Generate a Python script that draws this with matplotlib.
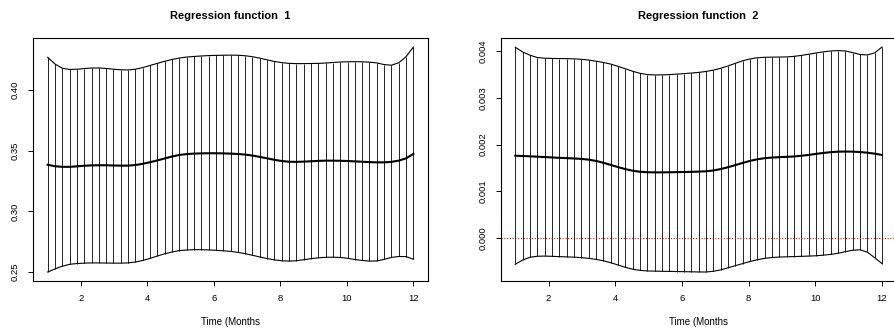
import numpy as np
import matplotlib
matplotlib.use("Agg")
import matplotlib.pyplot as plt

plt.rcParams['font.family'] = ['Liberation Sans', 'DejaVu Sans']

# Evaluation grid (months)
months = np.linspace(1, 12, 51)

# Regression function 1: estimate with pointwise band
fit1 = [0.3384, 0.3372, 0.3367, 0.3367, 0.3371, 0.3376, 0.3379, 0.3380, 0.3380, 0.3378,
        0.3377, 0.3377, 0.3382, 0.3392, 0.3405, 0.3420, 0.3436, 0.3452, 0.3465, 0.3472,
        0.3476, 0.3478, 0.3479, 0.3479, 0.3478, 0.3476, 0.3473, 0.3468, 0.3460, 0.3449,
        0.3437, 0.3425, 0.3415, 0.3409, 0.3408, 0.3410, 0.3413, 0.3416, 0.3418, 0.3418,
        0.3417, 0.3415, 0.3412, 0.3409, 0.3406, 0.3404, 0.3404, 0.3408, 0.3418, 0.3437,
        0.3474]
upper1 = [0.4270, 0.4215, 0.4180, 0.4170, 0.4172, 0.4177, 0.4182, 0.4182, 0.4178, 0.4172,
          0.4167, 0.4166, 0.4172, 0.4185, 0.4203, 0.4220, 0.4237, 0.4252, 0.4264, 0.4272,
          0.4277, 0.4281, 0.4284, 0.4286, 0.4287, 0.4288, 0.4287, 0.4283, 0.4275, 0.4263,
          0.4249, 0.4236, 0.4226, 0.4220, 0.4218, 0.4218, 0.4219, 0.4220, 0.4223, 0.4227,
          0.4231, 0.4233, 0.4234, 0.4233, 0.4230, 0.4224, 0.4210, 0.4205, 0.4225, 0.4275,
          0.4355]
lower1 = [0.2500, 0.2525, 0.2548, 0.2563, 0.2570, 0.2573, 0.2575, 0.2575, 0.2574, 0.2573,
          0.2573, 0.2575, 0.2582, 0.2595, 0.2612, 0.2632, 0.2650, 0.2665, 0.2676, 0.2681,
          0.2684, 0.2684, 0.2682, 0.2679, 0.2675, 0.2670, 0.2662, 0.2651, 0.2638, 0.2624,
          0.2611, 0.2600, 0.2593, 0.2590, 0.2593, 0.2601, 0.2610, 0.2617, 0.2621, 0.2622,
          0.2620, 0.2613, 0.2603, 0.2595, 0.2590, 0.2591, 0.2604, 0.2620, 0.2628, 0.2627,
          0.2605]

# Regression function 2: estimate with pointwise band
fit2 = [0.001760, 0.001755, 0.001748, 0.001740, 0.001732, 0.001724, 0.001716, 0.001709,
        0.001702, 0.001693, 0.001677, 0.001650, 0.001610, 0.001565, 0.001518, 0.001475,
        0.001440, 0.001418, 0.001408, 0.001405, 0.001405, 0.001407, 0.001410, 0.001413,
        0.001416, 0.001421, 0.001428, 0.001445, 0.001475, 0.001515, 0.001560, 0.001607,
        0.001650, 0.001685, 0.001708, 0.001722, 0.001730, 0.001737, 0.001745, 0.001760,
        0.001778, 0.001800, 0.001820, 0.001837, 0.001848, 0.001850, 0.001848, 0.001840,
        0.001825, 0.001805, 0.001777]
upper2 = [0.004080, 0.003980, 0.003910, 0.003860, 0.003845, 0.003840, 0.003838, 0.003836,
          0.003832, 0.003822, 0.003806, 0.003782, 0.003755, 0.003720, 0.003672, 0.003620,
          0.003566, 0.003522, 0.003496, 0.003488, 0.003489, 0.003495, 0.003505, 0.003516,
          0.003528, 0.003542, 0.003562, 0.003590, 0.003630, 0.003680, 0.003736, 0.003790,
          0.003830, 0.003855, 0.003865, 0.003868, 0.003870, 0.003873, 0.003885, 0.003905,
          0.003930, 0.003957, 0.003982, 0.004000, 0.004008, 0.004000, 0.003965, 0.003925,
          0.003915, 0.003960, 0.004085]
lower2 = [-0.000560, -0.000470, -0.000410, -0.000388, -0.000385, -0.000390, -0.000396,
          -0.000402, -0.000408, -0.000418, -0.000433, -0.000455, -0.000485, -0.000525,
          -0.000575, -0.000625, -0.000665, -0.000690, -0.000702, -0.000707, -0.000710,
          -0.000712, -0.000715, -0.000718, -0.000721, -0.000724, -0.000725, -0.000710,
          -0.000680, -0.000635, -0.000590, -0.000545, -0.000500, -0.000462, -0.000433,
          -0.000415, -0.000405, -0.000400, -0.000395, -0.000390, -0.000385, -0.000378,
          -0.000365, -0.000348, -0.000325, -0.000290, -0.000260, -0.000250, -0.000300,
          -0.000420, -0.000545]

titles = ["Regression function  1", "Regression function  2"]
xlabel = "Time (Months"
xticks = [2, 4, 6, 8, 10, 12]
yticks1 = [0.25, 0.30, 0.35, 0.40]
yticklabels1 = ["0.25", "0.30", "0.35", "0.40"]
yticks2 = [0.000, 0.001, 0.002, 0.003, 0.004]
yticklabels2 = ["0.000", "0.001", "0.002", "0.003", "0.004"]

W, H = 894, 333
fig = plt.figure(figsize=(W / 100, H / 100), dpi=100)

def px_axes(left, right, top, bottom):
    return fig.add_axes([left / W, 1 - bottom / H, (right - left) / W, (bottom - top) / H])

axes = [px_axes(33, 428, 38, 281), px_axes(500.6, 896.7, 38, 281)]
panels = [(fit1, upper1, lower1, yticks1, yticklabels1),
          (fit2, upper2, lower2, yticks2, yticklabels2)]

for i, (ax, (fit, up, lo, yt, ytl)) in enumerate(zip(axes, panels)):
    fit, up, lo = np.asarray(fit), np.asarray(up), np.asarray(lo)
    ax.vlines(months, lo, up, colors="black", linewidth=0.6)
    ax.plot(months, up, color="black", linewidth=0.8)
    ax.plot(months, lo, color="black", linewidth=0.8)
    ax.plot(months, fit, color="black", linewidth=1.5)
    if i == 1:
        ax.axhline(0, color="#a52a2a", linestyle=(0, (1, 1.5)), linewidth=0.8)

    # R-style 4% axis padding
    xr = months.max() - months.min()
    ax.set_xlim(months.min() - 0.04 * xr, months.max() + 0.04 * xr)
    ymin, ymax = lo.min(), up.max()
    yr = ymax - ymin
    ax.set_ylim(ymin - 0.04 * yr, ymax + 0.04 * yr)

    ax.set_xticks(xticks)
    ax.set_xticklabels([str(t) for t in xticks])
    ax.set_yticks(yt)
    ax.set_yticklabels(ytl, rotation=90, va="center")
    ax.tick_params(axis="both", length=3.6, width=0.7, labelsize=6.8, color="black")
    ax.tick_params(axis="x", pad=5.5)
    ax.tick_params(axis="y", pad=6.0)
    for s in ax.spines.values():
        s.set_linewidth(0.8)
        s.set_color("black")
    ax.set_title(titles[i], fontsize=8.0, fontweight="bold", pad=14)

    cx = ax.get_position().x0 + ax.get_position().width / 2
    fig.text(cx, (H - 325) / H, xlabel, ha="center", va="baseline", fontsize=7.0)

fig.savefig("out.png", dpi=100)
